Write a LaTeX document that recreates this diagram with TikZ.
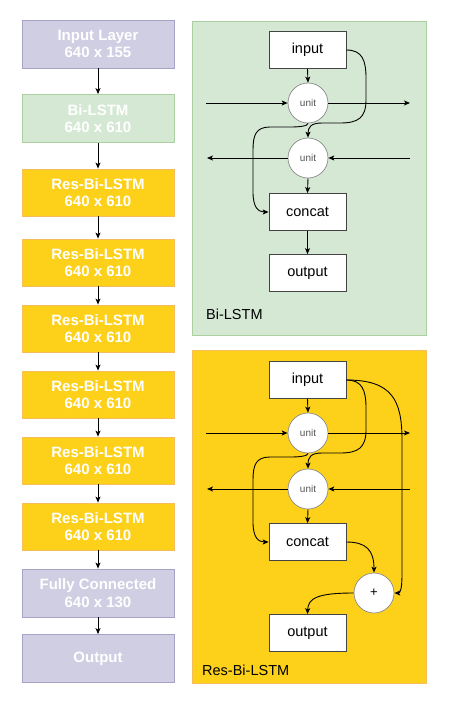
\documentclass[tikz,border=0pt]{standalone}
\usepackage{fontspec}
\setmainfont{Liberation Sans}
\usetikzlibrary{arrows.meta}
\definecolor{lavfill}{HTML}{D0CEE2}
\definecolor{lavdraw}{HTML}{A6A2C8}
\definecolor{grnfill}{HTML}{D5E8D4}
\definecolor{grndraw}{HTML}{A9D09E}
\definecolor{ylwfill}{HTML}{FDD11A}
\definecolor{ylwdraw}{HTML}{F4BE5C}
\definecolor{boxline}{HTML}{444444}
\definecolor{circline}{HTML}{8A8A8A}
\definecolor{unittext}{HTML}{555555}
\begin{document}
\begin{tikzpicture}[x=1pt,y=-1pt,
  arr/.style={-{Stealth[length=6pt,width=5pt,inset=1.5pt]},line width=0.9pt,black},
  layer/.style={minimum width=152pt,minimum height=47pt,inner sep=0pt,text=white,
    font=\bfseries\fontsize{15}{17.5}\selectfont,align=center,line width=0.8pt},
  lavbox/.style={layer,draw=lavdraw,fill=lavfill},
  grnbox/.style={layer,draw=grndraw,fill=grnfill},
  ylwbox/.style={layer,draw=ylwdraw,fill=ylwfill},
  inbox/.style={draw=boxline,fill=white,minimum width=77pt,minimum height=37pt,inner sep=0pt,
    font=\fontsize{14.5}{17}\selectfont,line width=0.7pt},
  unitc/.style={circle,draw=circline,fill=white,minimum size=40pt,inner sep=0pt,
    font=\fontsize{10}{12}\selectfont,text=unittext,line width=0.7pt},
  plusc/.style={circle,draw=circline,fill=white,minimum size=40pt,inner sep=0pt,
    font=\fontsize{13}{15}\selectfont,line width=0.7pt},
  panellabel/.style={anchor=base west,inner sep=0pt,font=\fontsize{14.5}{17}\selectfont}
]
\useasboundingbox (0,0) rectangle (448,705);

% ---------- left column ----------
\node[lavbox,minimum height=48pt] (L1) at (98,44) {Input Layer\\640 x 155};
\node[grnbox,minimum height=48pt] (L2) at (98,118.5) {Bi-LSTM\\640 x 610};
\node[ylwbox] (L3) at (98,192.5) {Res-Bi-LSTM\\640 x 610};
\node[ylwbox] (L4) at (98,262.5) {Res-Bi-LSTM\\640 x 610};
\node[ylwbox] (L5) at (98,328.5) {Res-Bi-LSTM\\640 x 610};
\node[ylwbox] (L6) at (98,394.5) {Res-Bi-LSTM\\640 x 610};
\node[ylwbox] (L7) at (98,460.5) {Res-Bi-LSTM\\640 x 610};
\node[ylwbox] (L8) at (98,526.5) {Res-Bi-LSTM\\640 x 610};
\node[lavbox,minimum height=48pt] (L9) at (98,593) {Fully Connected\\640 x 130};
\node[lavbox,minimum height=48pt] (L10) at (98,658.5) {Output};
\foreach \a/\b in {L1/L2,L2/L3,L3/L4,L4/L5,L5/L6,L6/L7,L7/L8,L8/L9,L9/L10}
  \draw[arr] (\a.south) -- (\b.north);

% ---------- Bi-LSTM panel ----------
\node[draw=grndraw,fill=grnfill,line width=0.8pt,minimum width=234pt,minimum height=314pt,
  inner sep=0pt,anchor=north west] (P1) at (192,21) {};
\node[panellabel] (P1lab) at (206,319) {Bi-LSTM};
\node[inbox] (a_in) at (307.5,50) {input};
\node[unitc] (a_u1) at (308,103) {unit};
\node[unitc] (a_u2) at (308,158) {unit};
\node[inbox] (a_cc) at (307.5,212) {concat};
\node[inbox] (a_out) at (307.5,273) {output};
\coordinate (a_l1) at (206,103);
\coordinate (a_r1) at (410,103);
\coordinate (a_l2) at (207,158);
\coordinate (a_r2) at (410,158);
\draw[arr] (a_in.south) -- (a_u1.north);
\draw[arr] (a_l1) -- (a_u1.west);
\draw[arr] (a_u1.east) -- (a_r1);
\draw[arr] (a_r2) -- (a_u2.east);
\draw[arr] (a_u2.west) -- (a_l2);
\draw[arr] (a_u2.south) -- (a_cc.north);
\draw[arr] (a_cc.south) -- (a_out.north);
\draw[arr] (a_in.east) .. controls (362,50) and (366,60) .. (366,78) -- (366,100)
  .. controls (366,118) and (358,123) .. (340,123) -- (322,123)
  .. controls (311,123) and (308,127) .. (a_u2.north);
\draw[arr] (a_u1.south) .. controls (308,126) and (300,127) .. (290,127) -- (270,127)
  .. controls (256,127) and (253,135) .. (253,150) -- (253,192)
  .. controls (253,207) and (258,212) .. (a_cc.west);

% ---------- Res-Bi-LSTM panel ----------
\node[draw=ylwdraw,fill=ylwfill,line width=0.8pt,minimum width=234pt,minimum height=333pt,
  inner sep=0pt,anchor=north west] (P2) at (192,350) {};
\node[panellabel] (P2lab) at (202,675) {Res-Bi-LSTM};
\node[inbox] (b_in) at (307.5,380) {input};
\node[unitc] (b_u1) at (308,433) {unit};
\node[unitc] (b_u2) at (308,489) {unit};
\node[inbox] (b_cc) at (307.5,542) {concat};
\node[plusc] (b_pl) at (374,593) {+};
\node[inbox] (b_out) at (307.5,633) {output};
\coordinate (b_l1) at (206,433);
\coordinate (b_r1) at (410,433);
\coordinate (b_l2) at (207,489);
\coordinate (b_r2) at (410,489);
\draw[arr] (b_in.south) -- (b_u1.north);
\draw[arr] (b_l1) -- (b_u1.west);
\draw[arr] (b_u1.east) -- (b_r1);
\draw[arr] (b_r2) -- (b_u2.east);
\draw[arr] (b_u2.west) -- (b_l2);
\draw[arr] (b_u2.south) -- (b_cc.north);
\draw[arr] (b_in.east) .. controls (362,380) and (366,390) .. (366,408) -- (366,430)
  .. controls (366,448) and (358,453) .. (340,453) -- (322,453)
  .. controls (311,453) and (308,457) .. (b_u2.north);
\draw[arr] (b_u1.south) .. controls (308,456) and (300,457) .. (290,457) -- (270,457)
  .. controls (256,457) and (253,465) .. (253,480) -- (253,522)
  .. controls (253,537) and (258,542) .. (b_cc.west);
\draw[arr] (b_in.east) .. controls (392,380) and (402,400) .. (402,440) -- (402,574)
  .. controls (402,590) and (400,593) .. (b_pl.east);
\draw[arr] (b_cc.east) .. controls (366,542) and (374,550) .. (b_pl.north);
\draw[arr] (b_pl.west) .. controls (318,593) and (308,598) .. (b_out.north);
\end{tikzpicture}
\end{document}
